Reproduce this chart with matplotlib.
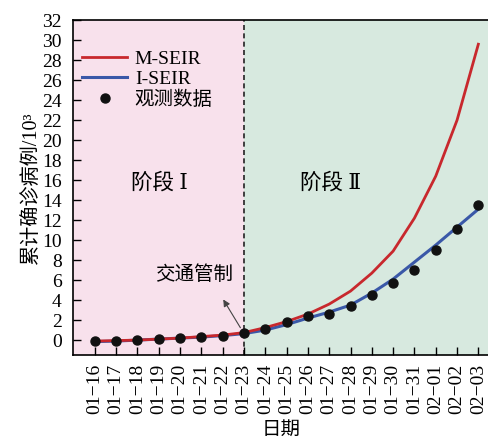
import numpy as np
import matplotlib
matplotlib.use("Agg")
import matplotlib.pyplot as plt

plt.rcParams['font.family'] = ['Liberation Serif', 'DejaVu Serif', 'Noto Sans CJK SC']
plt.rcParams['axes.unicode_minus'] = False

# dates and values (thousands of cases)
dates = ['01−16', '01−17', '01−18', '01−19', '01−20', '01−21', '01−22', '01−23',
         '01−24', '01−25', '01−26', '01−27', '01−28', '01−29', '01−30', '01−31',
         '02−01', '02−02', '02−03']
m_seir = [-0.1, -0.05, 0.0, 0.1, 0.2, 0.35, 0.5, 0.75,
          1.25, 1.85, 2.6, 3.6, 4.9, 6.7, 8.9, 12.2, 16.4, 22.0, 29.6]
i_seir = [-0.15, -0.1, 0.0, 0.1, 0.2, 0.3, 0.45, 0.65,
          1.0, 1.55, 2.2, 2.8, 3.5, 4.7, 6.1, 7.8, 9.5, 11.3, 13.1]
observed = [-0.1, -0.1, 0.0, 0.1, 0.17, 0.3, 0.43, 0.67,
            1.1, 1.85, 2.4, 2.6, 3.45, 4.5, 5.7, 7.05, 9.0, 11.1, 13.5]
control_idx = 7

x = np.arange(len(dates))

fig = plt.figure(figsize=(4.89, 4.40), dpi=100)
ax = fig.add_axes([0.149, 0.193, 0.851, 0.761])

x0, x1 = -1.03, 18.5
ax.axvspan(x0, control_idx, color='#f8e1ec', lw=0, zorder=0)
ax.axvspan(control_idx, x1, color='#d7e9df', lw=0, zorder=0)
ax.axvline(control_idx, color='#222222', ls=(0, (3, 2)), lw=1.2, zorder=1)

ax.plot(x, m_seir, color='#c8282d', lw=2, label='M-SEIR', zorder=3)
ax.plot(x, i_seir, color='#3a58a8', lw=2.2, label='I-SEIR', zorder=2)
ax.plot(x, observed, 'o', color='#111111', ms=6.5, label='观测数据', zorder=4)

ax.set_xlim(x0, x1)
ax.set_ylim(-1.5, 32)
ax.set_yticks(np.arange(0, 33, 2))
ax.set_xticks(x)
ax.set_xticklabels(dates, rotation=90)
ax.tick_params(direction='in', length=6, width=1, labelsize=14)
ax.tick_params(axis='y', pad=8)
ax.tick_params(axis='x', pad=6)
ax.spines['right'].set_visible(False)
for s in ['left', 'bottom', 'top']:
    ax.spines[s].set_linewidth(1.2)

ax.set_ylabel('累计确诊病例/10³', fontsize=14.5, labelpad=1)
ax.set_xlabel('日期', fontsize=14, labelpad=6)

ax.text(3.05, 15.7, '阶段 Ⅰ', fontsize=15.5, ha='center', va='center')
ax.text(11.06, 15.7, '阶段 Ⅱ', fontsize=15.5, ha='center', va='center')
ax.annotate('交通管制', xy=(5.96, 4.3), xytext=(4.64, 6.5),
            fontsize=14, ha='center', va='center')
ax.annotate('', xy=(5.96, 4.3), xytext=(6.9, 1.0),
            arrowprops=dict(arrowstyle='-|>', color='#444444', lw=0.8,
                            mutation_scale=10))

ax.legend(loc='upper left', bbox_to_anchor=(-0.01, 0.95), frameon=False,
          fontsize=14, handlelength=2.3, handletextpad=0.4,
          labelspacing=0.12, borderaxespad=0.3)

fig.savefig('out.png', dpi=100)
